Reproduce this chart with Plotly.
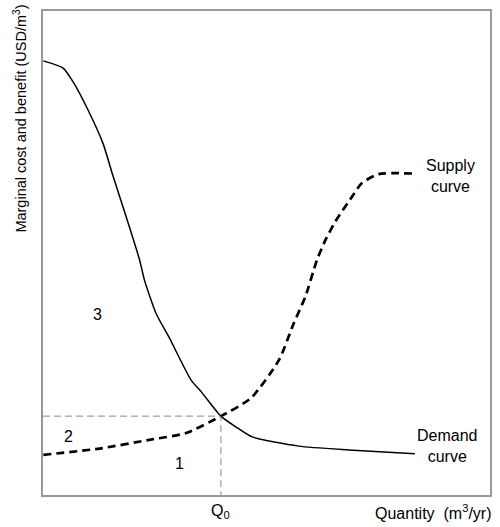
import plotly.graph_objects as go

# Demand curve (quantity %, price %)
demand_x = [0.07, 4.5, 6.7, 10.1, 13.4, 15.7, 18.6, 21.6, 22.7, 25.3, 28.3, 33.1, 35.6, 39.8, 43.1, 46.8, 57.2, 68.4, 83.2]
demand_y = [89.7, 88.2, 85.4, 79.5, 72.7, 65.8, 57.5, 48.6, 44.4, 37.5, 32.4, 23.8, 21.1, 16.3, 14.1, 12.0, 10.1, 9.3, 8.5]

# Supply curve
supply_x = [0.07, 12.7, 23.8, 32.0, 39.8, 46.5, 52.8, 56.1, 58.7, 61.3, 63.2, 65.4, 69.1, 71.3, 75.1, 83.5]
supply_y = [8.3, 9.6, 11.4, 12.8, 16.3, 20.0, 27.9, 35.5, 41.0, 48.6, 52.7, 56.5, 61.6, 64.4, 66.3, 66.4]

# Equilibrium
q0 = 39.8
p0 = 16.3

# Area labels
area_labels = ["3", "2", "1"]
area_x = [12.2, 5.6, 30.5]
area_y = [37.2, 12.0, 6.6]

FONT = "Liberation Sans, Arial, sans-serif"

fig = go.Figure()
fig.add_trace(go.Scatter(x=demand_x, y=demand_y, mode="lines",
                         line=dict(color="black", width=1.5, shape="spline", smoothing=0.6),
                         hoverinfo="skip", showlegend=False))
fig.add_trace(go.Scatter(x=supply_x, y=supply_y, mode="lines",
                         line=dict(color="black", width=2.7, dash="8px,5px", shape="spline", smoothing=0.6),
                         hoverinfo="skip", showlegend=False))
# Reference dashed lines
fig.add_trace(go.Scatter(x=[0, q0, q0], y=[p0, p0, 0], mode="lines",
                         line=dict(color="#888888", width=1, dash="7px,4px"),
                         hoverinfo="skip", showlegend=False))

anns = []
for t, x, y in zip(area_labels, area_x, area_y):
    anns.append(dict(x=x, y=y, text=t, showarrow=False, font=dict(size=16, color="black", family=FONT)))
anns.append(dict(x=91.1, y=65.9, text="Supply<br>curve", showarrow=False,
                 font=dict(size=16, color="black", family=FONT)))
anns.append(dict(x=90.4, y=10.1, text="Demand<br>curve", showarrow=False,
                 font=dict(size=16, color="black", family=FONT)))
anns.append(dict(x=q0, xref="x", y=-0.035, yref="paper", text="Q<sub>0</sub>", showarrow=False,
                 yanchor="middle", font=dict(size=16, color="black", family=FONT)))
anns.append(dict(x=(495 - 43) / 449, xref="paper", xanchor="right", y=-0.036, yref="paper", yanchor="middle",
                 text="Quantity  (m<sup>3</sup>/yr)", showarrow=False,
                 font=dict(size=16, color="black", family=FONT)))
anns.append(dict(x=(19.5 - 43) / 449, xref="paper", xanchor="center", y=1.0 + 8 / 484, yref="paper", yanchor="top",
                 text="Marginal cost and benefit (USD/m<sup>3</sup>)", textangle=-90, showarrow=False,
                 font=dict(size=14.5, color="black", family=FONT)))

fig.update_layout(
    width=500, height=527,
    margin=dict(l=43, r=8, t=11, b=32),
    paper_bgcolor="white", plot_bgcolor="white",
    annotations=anns,
    xaxis=dict(range=[0, 100], showgrid=False, zeroline=False, showticklabels=False, ticks="",
               showline=True, mirror=True, linecolor="#999999", linewidth=1.5, fixedrange=True),
    yaxis=dict(range=[0, 100], showgrid=False, zeroline=False, showticklabels=False, ticks="",
               showline=True, mirror=True, linecolor="#999999", linewidth=1.5, fixedrange=True),
)

fig.write_html("out.html", config={"displayModeBar": False},
               post_script="document.body.style.margin='0';")
